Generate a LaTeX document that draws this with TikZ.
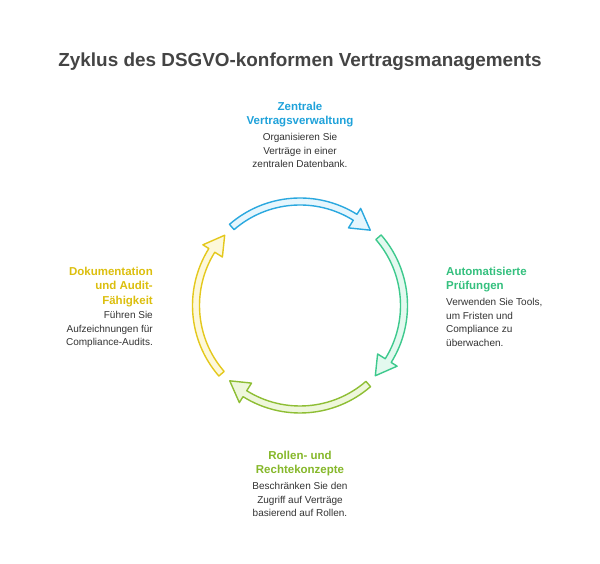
\documentclass[tikz,border=0pt]{standalone}
\usepackage{fontspec}
\setmainfont{Liberation Sans}
\usetikzlibrary{calc}
\definecolor{cblue}{HTML}{2AA8DF}\definecolor{fblue}{HTML}{E6F6FD}\definecolor{tblue}{HTML}{1FA2DA}
\definecolor{cgreen}{HTML}{3DC98D}\definecolor{fgreen}{HTML}{E3F9EF}\definecolor{tgreen}{HTML}{34C07E}
\definecolor{cygreen}{HTML}{8EBE34}\definecolor{fygreen}{HTML}{EEF7DB}\definecolor{tygreen}{HTML}{86B82A}
\definecolor{cyellow}{HTML}{E4C81C}\definecolor{fyellow}{HTML}{FDF8DA}\definecolor{tyellow}{HTML}{DCBF0E}
\definecolor{ttext}{HTML}{333333}\definecolor{ttitle}{HTML}{444444}
\tikzset{
  heading/.style={inner sep=0pt, font=\fontsize{11.5}{14.5}\selectfont\bfseries},
  desc/.style={inner sep=0pt, text=ttext, font=\fontsize{10}{13.5}\selectfont},
  cyc/.style={line width=1.4pt, line join=round}
}
\newcommand{\cyclearrow}[3]{% tail angle, stroke, fill
  \draw[cyc, draw=#2, fill=#3]
    ($(C)+(#1:107.5)$) arc[start angle=#1, end angle=#1-73, radius=107.5]
    -- ($(C)+(#1-73:114.5)$) -- ($(C)+(#1-84:103)$) -- ($(C)+(#1-73:91.5)$)
    -- ($(C)+(#1-73:100.5)$) arc[start angle=#1-73, end angle=#1, radius=100.5] -- cycle;
}
\begin{document}
\begin{tikzpicture}[x=1pt,y=1pt]
\useasboundingbox[fill=white] (0,0) rectangle (600,564);
\coordinate (C) at (300,258.5);
\node[inner sep=0pt, anchor=north, text=ttitle, font=\fontsize{18.9}{22}\selectfont\bfseries] (title) at (300,511.2) {Zyklus des DSGVO-konformen Vertragsmanagements};
\cyclearrow{131}{cblue}{fblue}
\cyclearrow{41}{cgreen}{fgreen}
\cyclearrow{-49}{cygreen}{fygreen}
\cyclearrow{-139}{cyellow}{fyellow}
% top
\node[heading, text=tblue, anchor=north, align=center] (th) at (300,462.2) {Zentrale\\Vertragsverwaltung};
\node[desc, anchor=north, align=center] (td) at (300,430.6) {Organisieren Sie\\Verträge in einer\\zentralen Datenbank.};
% right
\node[heading, text=tgreen, anchor=north west, align=left] (rh) at (446,297.2) {Automatisierte\\Prüfungen};
\node[desc, anchor=north west, align=left] (rd) at (446,265.6) {Verwenden Sie Tools,\\um Fristen und\\Compliance zu\\überwachen.};
% bottom
\node[heading, text=tygreen, anchor=north, align=center] (bh) at (300,113.2) {Rollen- und\\Rechtekonzepte};
\node[desc, anchor=north, align=center] (bd) at (300,81.6) {Beschränken Sie den\\Zugriff auf Verträge\\basierend auf Rollen.};
% left
\node[heading, text=tyellow, anchor=north east, align=right] (lh) at (153,297.2) {Dokumentation\\und Audit-\\Fähigkeit};
\node[desc, anchor=north east, align=right] (ld) at (153,252.6) {Führen Sie\\Aufzeichnungen für\\Compliance-Audits.};
\end{tikzpicture}
\end{document}
